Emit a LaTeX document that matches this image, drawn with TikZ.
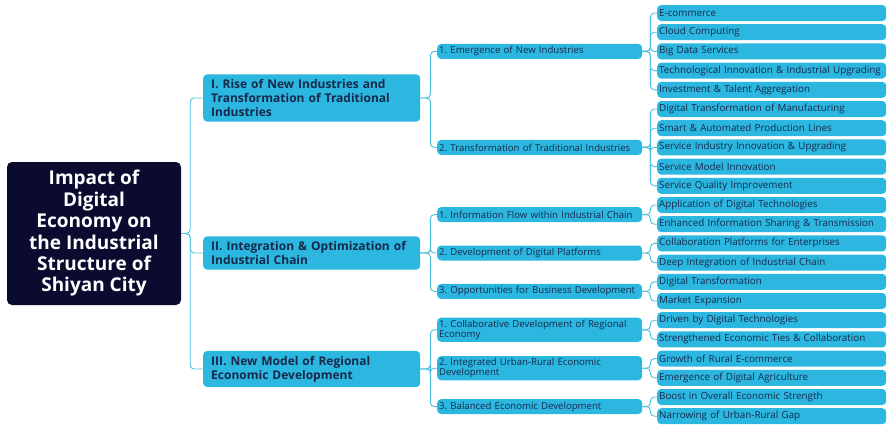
\documentclass[tikz,border=0pt]{standalone}
\usepackage{fontspec}
\setmainfont{Open Sans}
\usetikzlibrary{positioning}
\definecolor{navy}{HTML}{0B0B30}
\definecolor{sky}{HTML}{2CB7E1}
\definecolor{ink}{HTML}{17294A}
\definecolor{wire}{HTML}{4CC2E3}
\frenchspacing
\hyphenpenalty=10000
\exhyphenpenalty=10000

\begin{document}
\begin{tikzpicture}[x=1pt,y=-1pt,
  rootbox/.style={fill=navy,rounded corners=5pt,text=white,align=center,
    font=\bfseries\fontsize{19}{21.4}\selectfont,minimum width=174pt,minimum height=143pt,inner sep=0pt},
  mainbox/.style={fill=sky,rounded corners=4pt,text=ink,align=left,anchor=west,
    font=\bfseries\fontsize{12}{14}\selectfont,text width=201pt,inner xsep=8pt,inner ysep=5pt},
  subbox/.style={fill=sky,rounded corners=4pt,text=ink,align=left,anchor=west,
    font=\fontsize{9.6}{10.5}\selectfont,text width=201pt,inner xsep=2pt,inner ysep=2pt,minimum height=15pt},
  leafbox/.style={fill=sky,rounded corners=4pt,text=ink,align=left,anchor=west,
    font=\fontsize{9.8}{10.5}\selectfont,text width=225pt,inner xsep=2pt,inner ysep=0pt,minimum height=16pt},
  link/.style={wire,line width=0.9pt,rounded corners=4pt}]
  \useasboundingbox (0,0) rectangle (889,424);

  % root
  \node[rootbox] (root) at (94,233.5) {Impact of\\Digital\\Economy on\\the Industrial\\Structure of\\Shiyan City};

  % main branches
  \node[mainbox] (m1) at (203,98) {I. Rise of New Industries and\\Transformation of Traditional\\Industries};
  \node[mainbox] (m2) at (203,253) {II. Integration \& Optimization of\\Industrial Chain};
  \node[mainbox] (m3) at (203,369) {III. New Model of Regional\\Economic Development};
  \foreach \m in {m1,m2,m3}
    \draw[link] (root.east) -- ++(9,0) |- (\m.west);

  % sub branches: name/y/parent/text
  \foreach \s/\y/\up/\lab in {s11/51.4/m1/1. Emergence of New Industries,
                              s12/147.4/m1/2. Transformation of Traditional Industries,
                              s21/214.6/m2/1. Information Flow within Industrial Chain,
                              s22/253/m2/2. Development of Digital Platforms,
                              s23/291.4/m2/3. Opportunities for Business Development,
                              s31/329.8/m3/1. Collaborative Development of Regional\\Economy,
                              s32/368.2/m3/2. Integrated Urban-Rural Economic\\Development,
                              s33/406.6/m3/3. Balanced Economic Development}{
    \node[subbox] (\s) at (437,\y) {\lab};
    \draw[link] (\up.east) -- ++(10,0) |- (\s.west);
  }

  % leaves
  \foreach \lab/\up [count=\k from 0] in {E-commerce/s11,Cloud Computing/s11,Big Data Services/s11,
      Technological Innovation \& Industrial Upgrading/s11,Investment \& Talent Aggregation/s11,
      Digital Transformation of Manufacturing/s12,Smart \& Automated Production Lines/s12,
      Service Industry Innovation \& Upgrading/s12,Service Model Innovation/s12,Service Quality Improvement/s12,
      Application of Digital Technologies/s21,Enhanced Information Sharing \& Transmission/s21,
      Collaboration Platforms for Enterprises/s22,Deep Integration of Industrial Chain/s22,
      Digital Transformation/s23,Market Expansion/s23,
      Driven by Digital Technologies/s31,Strengthened Economic Ties \& Collaboration/s31,
      Growth of Rural E-commerce/s32,Emergence of Digital Agriculture/s32,
      Boost in Overall Economic Strength/s33,Narrowing of Urban-Rural Gap/s33}{
    \node[leafbox] (l\k) at (657,13+19.2*\k) {\mbox{\lab}};
    \draw[link] (\up.east) -- ++(8,0) |- (l\k.west);
  }
\end{tikzpicture}
\end{document}
